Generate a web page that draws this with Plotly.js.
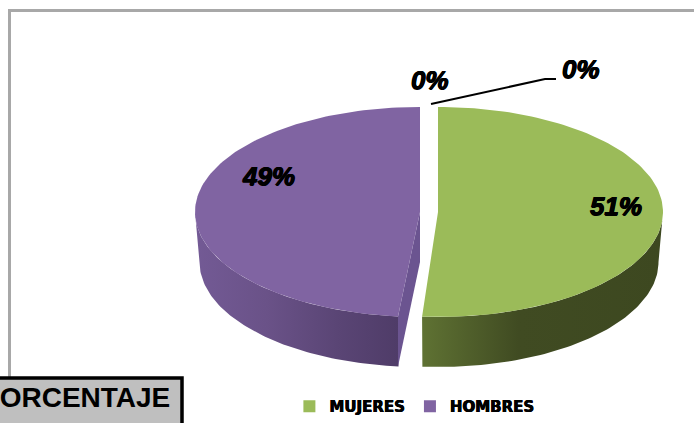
<!DOCTYPE html>
<html>
<head>
<meta charset="utf-8">
<script src="https://cdn.plot.ly/plotly-3.0.1.min.js"></script>
<style>html,body{margin:0;padding:0;background:#fff;overflow:hidden}</style>
</head>
<body>
<div id="chart" style="width:694px;height:423px"></div>
<script>
let categories = ["MUJERES", "HOMBRES"];
let values = [51, 49];
let zeroLabels = ["0%", "0%"];

// the axes run in page pixels, y downwards
let rx = 225, ry = 105, depth = 50, cy = 212;
let bottomScale = 0.98;  // lower rim looks a bit narrower

function turn(share) { return share / 100 * 2 * Math.PI; }

function edge(cx, a, drop) {
  let r = drop ? rx * bottomScale : rx;
  return [cx + r * Math.sin(a), cy - ry * Math.cos(a) + (drop || 0)];
}

// top face of a slice, from one angle to another
function topFace(cx, a0, a1) {
  let xs = [cx], ys = [cy];
  for (let i = 0; i <= 120; i++) {
    let p = edge(cx, a0 + (a1 - a0) * i / 120);
    xs.push(p[0]); ys.push(p[1]);
  }
  xs.push(cx); ys.push(cy);
  return { xs, ys };
}

// outer wall, only the part of the rim that faces the viewer
function wall(cx, a0, a1) {
  let from = Math.max(a0, Math.PI / 2), to = Math.min(a1, 3 * Math.PI / 2);
  let xs = [], ys = [];
  for (let i = 0; i <= 80; i++) {
    let p = edge(cx, from + (to - from) * i / 80);
    xs.push(p[0]); ys.push(p[1]);
  }
  for (let i = 80; i >= 0; i--) {
    let p = edge(cx, from + (to - from) * i / 80, depth);
    xs.push(p[0]); ys.push(p[1]);
  }
  xs.push(xs[0]); ys.push(ys[0]);
  return { xs, ys };
}

function fillTrace(shape, color, gradient) {
  let t = {
    x: shape.xs, y: shape.ys, type: "scatter", mode: "lines", fill: "toself",
    line: { width: 0, color: color }, fillcolor: color,
    hoverinfo: "skip", showlegend: false
  };
  if (gradient) {
    t.fillgradient = { type: "horizontal", colorscale: gradient };
  }
  return t;
}

// perspective pulls the two cut edges slightly past the true split
let split = turn(values[0]);
let greenEnd = split + 0.008, purpleStart = split + 0.035;
let greenX = 438, purpleX = 420;

// cut face of the purple slice, seen through the gap
let cutA = edge(purpleX, purpleStart);
let cutFace = {
  xs: [purpleX, cutA[0], cutA[0], purpleX, purpleX],
  ys: [cy, cutA[1], cutA[1] + depth, cy + depth, cy]
};

let traces = [
  fillTrace(wall(purpleX, purpleStart, 2 * Math.PI), "#5a4474",
    [[0, "#735a95"], [0.35, "#6a5288"], [0.7, "#5a4575"], [1, "#4f3c68"]]),
  fillTrace(cutFace, "#6b5490"),
  fillTrace(topFace(purpleX, purpleStart, 2 * Math.PI), "#8064a2"),
  fillTrace(wall(greenX, 0, greenEnd), "#414d22",
    [[0, "#5f7233"], [0.4, "#404b22"], [1, "#3d4820"]]),
  fillTrace(topFace(greenX, 0, greenEnd), "#9bbb59")
];

// legend entries
let legendColors = ["#9bbb59", "#8064a2"];
categories.forEach(function(name, i) {
  traces.push({
    x: [null], y: [null], type: "scatter", mode: "markers", name: name,
    marker: { symbol: "square", size: 12, color: legendColors[i] }
  });
});

// leader line of the second 0% label
traces.push({
  x: [431, 545, 556], y: [104, 79, 79], type: "scatter", mode: "lines",
  line: { color: "#000", width: 2 }, hoverinfo: "skip", showlegend: false
});

let heavy = "0.6px 0 0.4px #000, -0.6px 0 0.4px #000, 0 0.5px 0.4px #000";
let labelFont = { family: "Liberation Sans", size: 26, color: "#000", weight: 700, style: "italic", shadow: heavy };

function label(text, x, y) {
  return { text: text, x: x, y: y, xref: "x", yref: "y", showarrow: false, font: labelFont };
}

let layout = {
  width: 694,
  height: 423,
  margin: { l: 0, r: 0, t: 0, b: 0 },
  paper_bgcolor: "#fff",
  plot_bgcolor: "#fff",
  xaxis: { range: [0, 694], visible: false, fixedrange: true },
  yaxis: { range: [423, 0], visible: false, fixedrange: true },
  showlegend: true,
  legend: {
    orientation: "h", x: 0.417, y: 0.038, xanchor: "left", yanchor: "middle",
    font: { family: "DejaVu Sans", size: 15, color: "#000", weight: 700, shadow: "0.4px 0 0.3px #000, -0.4px 0 0.3px #000" },
    itemwidth: 30, bgcolor: "rgba(0,0,0,0)"
  },
  shapes: [
    { type: "line", x0: 9.5, x1: 9.5, y0: 9, y1: 378, xref: "x", yref: "y", line: { color: "#a8a8a8", width: 3 } },
    { type: "line", x0: 8, x1: 694, y0: 10.5, y1: 10.5, xref: "x", yref: "y", line: { color: "#a8a8a8", width: 3 } },
    { type: "rect", x0: -5, x1: 182, y0: 378, y1: 430, xref: "x", yref: "y", fillcolor: "#bfbfbf", line: { color: "#000", width: 3.5 } }
  ],
  annotations: [
    label(values[0] + "%", 616, 206),
    label(values[1] + "%", 268, 176),
    label(zeroLabels[0], 430, 80),
    label(zeroLabels[1], 581, 69),
    {
      text: "PORCENTAJE", x: 172, y: 397, xref: "x", yref: "y", xanchor: "right",
      showarrow: false, font: { family: "Liberation Sans", size: 28, color: "#000", weight: 700 }
    }
  ]
};

Plotly.newPlot("chart", traces, layout, { displayModeBar: false, staticPlot: true });
</script>
</body>
</html>
